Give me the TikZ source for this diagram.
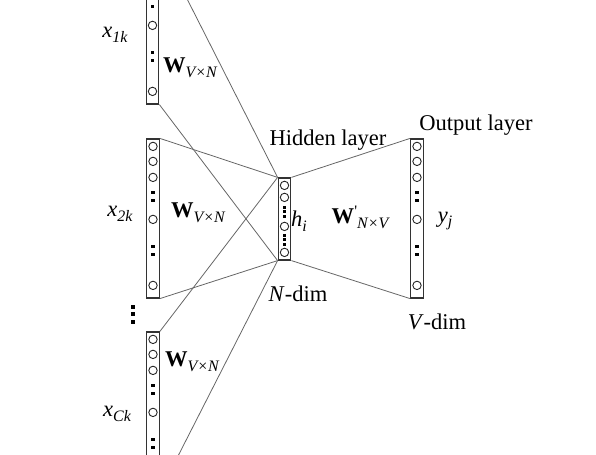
\documentclass[tikz,border=0pt]{standalone}
\usepackage{fontspec}
\setmainfont{Liberation Serif}
\usetikzlibrary{calc}

\newcommand{\lowsub}[1]{\raisebox{-0.45ex}{\fontsize{8}{9}\selectfont\itshape #1}}

\begin{document}
\begin{tikzpicture}[
  x=0.5bp, y=-0.5bp,
  font=\fontsize{11.3}{13}\selectfont,
  vec/.style={draw=black!80, line width=0.6bp, rectangle, inner sep=0pt, minimum width=6.3bp, minimum height=79.5bp},
  hvec/.style={vec, minimum height=41bp},
  unit/.style={draw=black!85, line width=0.45bp},
  dotsq/.style={fill=black, minimum size=1.7bp, inner sep=0pt, rectangle},
  wire/.style={draw=black!60, line width=0.4bp},
  lbl/.style={inner sep=0pt}
]
\useasboundingbox (0,0) rectangle (596,455);
\clip (0,0) rectangle (596,455);

% layers
\node[vec] (in1) at (152.5,24.5) {};
\node[vec] (in2) at (153,218.5) {};
\node[vec] (in3) at (153,411.5) {};
\node[hvec] (hid) at (284.5,219) {};
\node[vec] (out) at (417,218.5) {};

% units of the long vectors
\foreach \v in {in1,in2,in3,out} {
  \foreach \dy in {8,23,39,81,147}
    \draw[unit] ($(\v.north)+(0,\dy)$) circle[radius=2.1bp];
  \foreach \dy in {54,62,108,116}
    \node[dotsq] at ($(\v.north)+(0,\dy)$) {};
}
% units of the hidden vector
\foreach \dy in {8,20,49,75}
  \draw[unit] ($(hid.north)+(0,\dy)$) circle[radius=2.1bp];
\foreach \dy in {30,34.5,39,58,62.5,67}
  \node[dotsq, minimum size=1.5bp] at ($(hid.north)+(0,\dy)$) {};

% vertical ellipsis between inputs
\foreach \yy in {307,314.5,322}
  \node[dotsq, minimum size=2bp] at (133,\yy) {};

% connections
\draw[wire] (in1.north east) -- (hid.north west);
\draw[wire] (in1.south east) -- (hid.south west);
\draw[wire] (in2.north east) -- (hid.north west);
\draw[wire] (in2.south east) -- (hid.south west);
\draw[wire] (in3.north east) -- (hid.north west);
\draw[wire] (in3.south east) -- (hid.south west);
\draw[wire] (hid.north east) -- (out.north west);
\draw[wire] (hid.south east) -- (out.south west);

% labels
\node[lbl] (x1) at (115,35) {\textit{x}\lowsub{1k}};
\node[lbl] (x2) at (120,214) {\textit{x}\lowsub{2k}};
\node[lbl] (x3) at (117,414) {\textit{x}\lowsub{Ck}};
\node[lbl] (w1) at (190,68) {\textbf{W}\lowsub{V×N}};
\node[lbl] (w2) at (198,213) {\textbf{W}\lowsub{V×N}};
\node[lbl] (w3) at (192,362) {\textbf{W}\lowsub{V×N}};
\node[lbl] (hl) at (328,140) {Hidden layer};
\node[lbl] (ol) at (476,125) {Output layer};
\node[lbl] (hi) at (299,221) {\textit{h}\lowsub{i}};
\node[lbl] (wo) at (360,217) {\textbf{W}\raisebox{0.7ex}{\fontsize{8}{9}\selectfont\textquotesingle}\lowsub{N×V}};
\node[lbl] (yj) at (445,221) {\textit{y}\lowsub{j}};
\node[lbl] (nd) at (298,294) {\textit{N}-dim};
\node[lbl] (vd) at (437,322) {\textit{V}-dim};
\end{tikzpicture}
\end{document}
